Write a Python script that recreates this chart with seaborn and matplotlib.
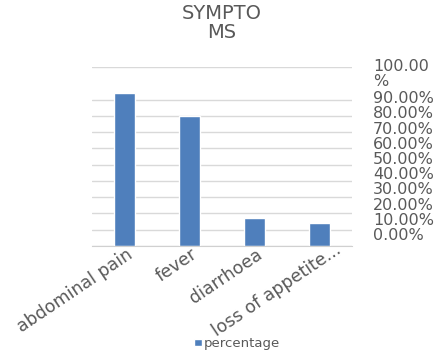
import matplotlib
matplotlib.use("Agg")
import matplotlib.pyplot as plt
from matplotlib.patches import Patch
from matplotlib.transforms import ScaledTranslation
import seaborn as sns
import pandas as pd

# Symptom shares
symptoms = ["abdominal pain", "fever", "diarrhoea", "loss of appetite..."]
percentage = [0.94, 0.80, 0.17, 0.14]
axis_labels = ["0.00%", "10.00%", "20.00%", "30.00%", "40.00%", "50.00%",
               "60.00%", "70.00%", "80.00%", "90.00%", "100.00\n%"]
axis_positions = [0, 0.1, 0.2, 0.3, 0.4, 0.5, 0.6, 0.7, 0.8, 0.9, 1.06]

df = pd.DataFrame({"symptom": symptoms, "percentage": percentage})

sns.set_style("white")
plt.rcParams["font.family"] = ["DejaVu Sans"]

text_grey = "#595959"
bar_blue = "#4F7FBC"

fig = plt.figure(figsize=(4.43, 3.58), dpi=100)
ax = fig.add_axes([0.2077, 0.3128, 0.587, 0.5])

sns.barplot(data=df, x="symptom", y="percentage", color=bar_blue,
            width=0.32, saturation=1, ax=ax)

ax.set_ylim(0, 1.1)
ax.set_xlim(-0.5, 3.5)
ax.set_yticks([0, 0.1, 0.2, 0.3, 0.4, 0.5, 0.6, 0.7, 0.8, 0.9, 1.1])
ax.set_yticklabels([])
ax.tick_params(axis="y", length=0)
ax.yaxis.grid(True, color="#D9D9D9", linewidth=1)
ax.set_axisbelow(True)
for side in ["left", "right", "top"]:
    ax.spines[side].set_visible(False)
ax.spines["bottom"].set_color("#D0D0D0")
ax.set_xlabel("")
ax.set_ylabel("")
ax.tick_params(axis="x", length=0, pad=5)
labels = ax.get_xticklabels()
for i, lab in enumerate(labels):
    lab.set_rotation(34)
    lab.set_ha("right")
    lab.set_va("center")
    lab.set_rotation_mode("anchor")
    lab.set_fontsize(12.5)
    lab.set_color(text_grey)
    # nudge labels to the right (the truncated last one a bit more)
    dx, dy = (0.06, 0.0) if i < len(labels) - 1 else (0.2, 0.05)
    lab.set_transform(lab.get_transform() +
                      ScaledTranslation(dx, dy, fig.dpi_scale_trans))

# Percentage scale on the right
ax2 = ax.twinx()
ax2.set_ylim(-0.079, 1.099)
ax2.set_yticks(axis_positions)
ax2.set_yticklabels(axis_labels, fontsize=11.5, color=text_grey,
                    linespacing=1.0)
ax2.tick_params(axis="y", length=0, pad=15)
for side in ["left", "right", "top", "bottom"]:
    ax2.spines[side].set_visible(False)
for lab in ax2.get_yticklabels():
    lab.set_ha("left")

fig.text(0.5, 0.935, "SYMPTO\nMS", ha="center", va="center",
         fontsize=14, color=text_grey, linespacing=1.0)

fig.legend(handles=[Patch(facecolor=bar_blue, label="percentage")],
           loc="center", bbox_to_anchor=(0.535, 0.04), frameon=False,
           fontsize=9.5, labelcolor=text_grey, handlelength=0.6,
           handleheight=0.5, handletextpad=0.1)

fig.savefig("out.png", dpi=100)
